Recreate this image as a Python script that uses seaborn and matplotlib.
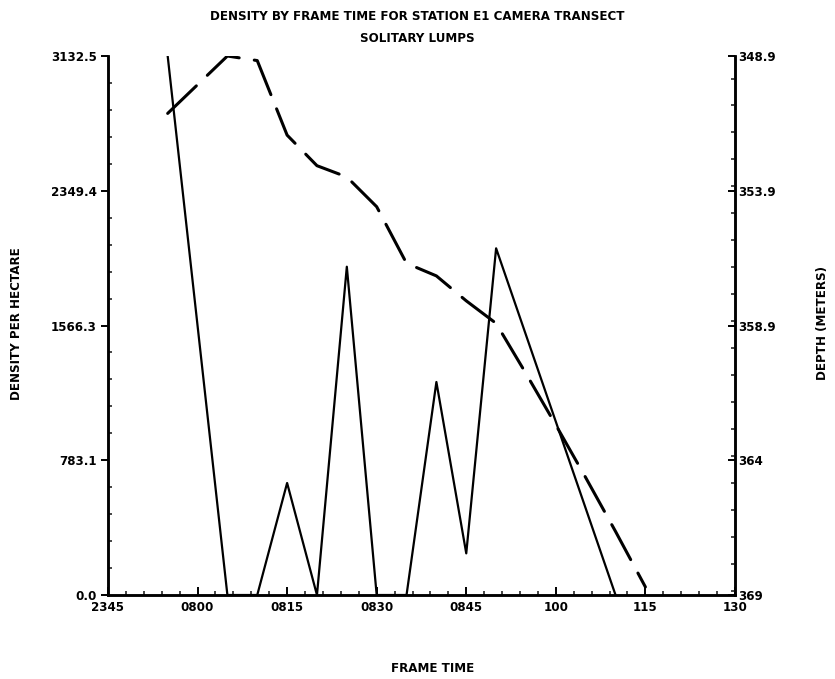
import matplotlib
matplotlib.use("Agg")
import matplotlib.pyplot as plt
from matplotlib.ticker import FixedLocator, MultipleLocator
import seaborn as sns
import pandas as pd

# ---- data (minutes after 2345) ----
density_minutes = [10, 20, 25, 30, 35, 40, 45, 50, 55, 60, 65, 85]
density_values = [3132.5, 0, 0, 651, 0, 1908, 0, 0, 1238, 242, 2015, 0]

depth_minutes = [10, 20, 25, 30, 35, 40, 45, 50, 55, 60, 65, 70, 75, 80, 85, 90]
depth_values = [351.04, 348.9, 349.07, 351.85, 352.99, 353.41, 354.52, 356.63,
                357.10, 358.03, 358.87, 360.74, 362.66, 364.62, 366.63, 368.70]

x_tick_minutes = [0, 15, 30, 45, 60, 75, 90, 105]
x_tick_labels = ["2345", "0800", "0815", "0830", "0845", "100", "115", "130"]

left_ticks = [0.0, 783.125, 1566.25, 2349.375, 3132.5]
left_labels = ["0.0", "783.1", "1566.3", "2349.4", "3132.5"]

right_ticks = [348.9, 353.925, 358.95, 363.975, 369.0]
right_labels = ["348.9", "353.9", "358.9", "364", "369"]

title_line1 = "DENSITY BY FRAME TIME FOR STATION E1 CAMERA TRANSECT"
title_line2 = "SOLITARY LUMPS"

sns.set_theme(style="white")
plt.rcParams["font.family"] = ["DejaVu Sans"]
plt.rcParams["font.weight"] = "bold"
plt.rcParams["text.color"] = "black"

fig = plt.figure(figsize=(8.35, 6.79), dpi=100)
ax = fig.add_axes([0.1293, 0.1237, 0.7509, 0.7938])
ax2 = ax.twinx()

dens_df = pd.DataFrame({"minute": density_minutes, "density": density_values})
depth_df = pd.DataFrame({"minute": depth_minutes, "depth": depth_values})

sns.lineplot(data=dens_df, x="minute", y="density", ax=ax, color="black",
             linewidth=1.6, sort=False)
sns.lineplot(data=depth_df, x="minute", y="depth", ax=ax2, color="black",
             linewidth=2.2, sort=False)
for ln in ax2.get_lines():
    ln.set_dashes([13, 5])
    ln.set_dash_capstyle("round")

ax.set_xlim(0, 105)
ax.set_ylim(0, 3132.5)
ax2.set_ylim(369.0, 348.9)

fs = 8.6
ax.xaxis.set_major_locator(FixedLocator(x_tick_minutes))
ax.set_xticklabels(x_tick_labels, fontsize=fs, fontweight="bold", color="black")
ax.xaxis.set_minor_locator(MultipleLocator(3))
ax.yaxis.set_major_locator(FixedLocator(left_ticks))
ax.set_yticklabels(left_labels, fontsize=fs, fontweight="bold", color="black")
ax.yaxis.set_minor_locator(MultipleLocator(3132.5 / 20))
ax2.yaxis.set_major_locator(FixedLocator(right_ticks))
ax2.set_yticklabels(right_labels, fontsize=fs, fontweight="bold", color="black")
ax2.yaxis.set_minor_locator(MultipleLocator(1.005))

for a in (ax, ax2):
    a.spines["top"].set_visible(False)
    for s in a.spines.values():
        s.set_color("black")
        s.set_linewidth(1.8)
    a.grid(False)

ax.tick_params(axis="x", which="major", direction="in", length=6, width=1.4,
               bottom=True, pad=4, colors="black")
ax.tick_params(axis="x", which="minor", direction="in", length=3, width=1.2, bottom=True)
ax.tick_params(axis="y", which="major", direction="out", length=5, width=1.4,
               left=True, pad=3, colors="black")
ax.tick_params(axis="y", which="minor", direction="in", length=3, width=1.2, left=True)
ax2.tick_params(axis="y", which="major", direction="in", length=5, width=1.4,
                right=True, pad=2, colors="black")
ax2.tick_params(axis="y", which="minor", direction="in", length=3, width=1.2, right=True)

ax.set_xlabel("")
ax.set_ylabel("")
ax2.set_ylabel("")

fig.text(0.500, 0.975, title_line1, ha="center", va="center",
         fontsize=fs, fontweight="bold", color="black")
fig.text(0.500, 0.944, title_line2, ha="center", va="center",
         fontsize=fs, fontweight="bold", color="black")
fig.text(0.518, 0.015, "FRAME TIME", ha="center", va="center",
         fontsize=fs, fontweight="bold", color="black")
fig.text(0.020, 0.524, "DENSITY PER HECTARE", ha="center", va="center",
         rotation=90, fontsize=fs, fontweight="bold", color="black")
fig.text(0.985, 0.524, "DEPTH (METERS)", ha="center", va="center",
         rotation=90, fontsize=fs, fontweight="bold", color="black")

fig.savefig("out.png", dpi=100)
